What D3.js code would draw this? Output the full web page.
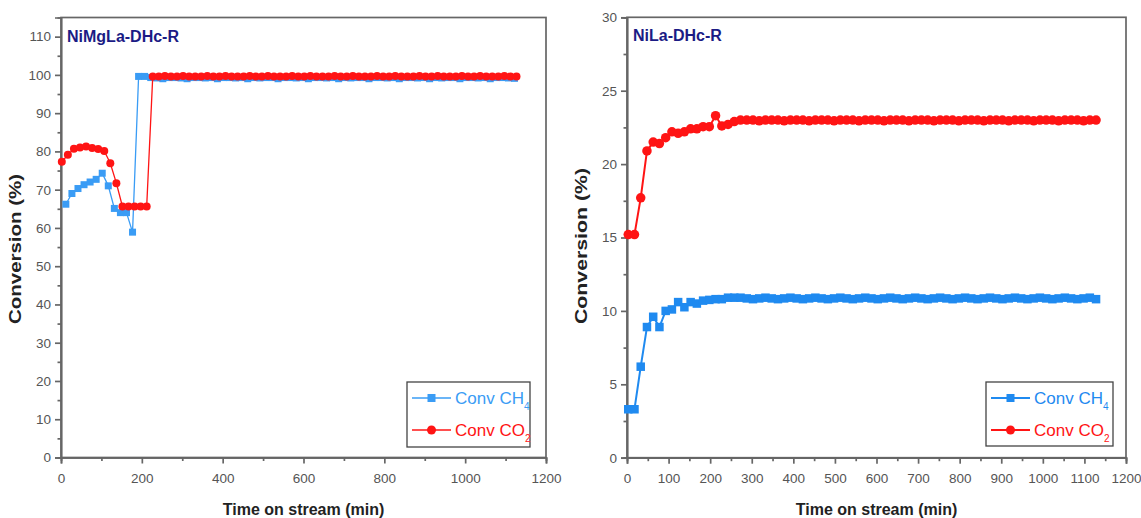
<!DOCTYPE html>
<html>
<head>
<meta charset="utf-8">
<script src="https://cdn.jsdelivr.net/npm/d3@7"></script>
<style>
  body { margin: 0; background: #fff; }
  text { font-family: "Liberation Sans", Arial, sans-serif; }
</style>
</head>
<body>
<script>
// ---- data: left panel (NiMgLa-DHc-R)
var leftTimeCH4 = [12, 27, 42, 57, 72, 87, 102, 117, 132, 147, 162, 177, 192, 207, 222, 237,
  252, 267, 282, 297, 312, 327, 342, 357, 372, 387, 402, 417, 432, 447, 462, 477, 492, 507,
  522, 537, 552, 567, 582, 597, 612, 627, 642, 657, 672, 687, 702, 717, 732, 747, 762, 777,
  792, 807, 822, 837, 852, 867, 882, 897, 912, 927, 942, 957, 972, 987, 1002, 1017, 1032,
  1047, 1062, 1077, 1092, 1107, 1122];
var leftCH4 = [66.2, 69.0, 70.3, 71.3, 72.0, 72.7, 74.3, 71.0, 65.1, 64.0, 64.0, 58.9, 99.6, 99.6,
  99.3, 99.2, 99.0, 99.3, 99.3, 99.2, 99.0, 99.3, 99.3, 99.2, 99.3, 99.0, 99.3, 99.3, 99.2,
  99.3, 99.0, 99.3, 99.2, 99.3, 99.3, 99.0, 99.3, 99.3, 99.2, 99.3, 99.0, 99.3, 99.3, 99.2,
  99.3, 99.0, 99.3, 99.2, 99.3, 99.3, 99.0, 99.3, 99.3, 99.2, 99.3, 99.0, 99.3, 99.3, 99.2,
  99.3, 99.0, 99.3, 99.2, 99.3, 99.3, 99.0, 99.3, 99.3, 99.2, 99.3, 99.0, 99.3, 99.3, 99.2, 99.1];
var leftTimeCO2 = [2, 17, 32, 47, 62, 77, 92, 107, 122, 137, 152, 167, 182, 197, 212, 227, 242,
  257, 272, 287, 302, 317, 332, 347, 362, 377, 392, 407, 422, 437, 452, 467, 482, 497, 512,
  527, 542, 557, 572, 587, 602, 617, 632, 647, 662, 677, 692, 707, 722, 737, 752, 767, 782,
  797, 812, 827, 842, 857, 872, 887, 902, 917, 932, 947, 962, 977, 992, 1007, 1022, 1037,
  1052, 1067, 1082, 1097, 1112, 1127];
var leftCO2 = [77.3, 79.1, 80.7, 81.0, 81.3, 80.9, 80.6, 80.1, 76.9, 71.7, 65.6, 65.6, 65.6, 65.6,
  65.6, 99.6, 99.6, 99.7, 99.6, 99.6, 99.7, 99.6, 99.6, 99.6, 99.7, 99.6, 99.6, 99.7, 99.6,
  99.6, 99.6, 99.7, 99.6, 99.6, 99.7, 99.6, 99.6, 99.6, 99.7, 99.6, 99.6, 99.7, 99.6, 99.6,
  99.6, 99.7, 99.6, 99.6, 99.7, 99.6, 99.6, 99.6, 99.7, 99.6, 99.6, 99.7, 99.6, 99.6, 99.6,
  99.7, 99.6, 99.6, 99.7, 99.6, 99.6, 99.6, 99.7, 99.6, 99.6, 99.7, 99.6, 99.6, 99.6, 99.7,
  99.6, 99.6];

// ---- data: right panel (NiLa-DHc-R)
var rightTime = [3, 18, 33, 48, 63, 78, 93, 108, 123, 138, 153, 168, 183, 198, 213, 228, 243,
  258, 273, 288, 303, 318, 333, 348, 363, 378, 393, 408, 423, 438, 453, 468, 483, 498, 513,
  528, 543, 558, 573, 588, 603, 618, 633, 648, 663, 678, 693, 708, 723, 738, 753, 768, 783,
  798, 813, 828, 843, 858, 873, 888, 903, 918, 933, 948, 963, 978, 993, 1008, 1023, 1038,
  1053, 1068, 1083, 1098, 1113, 1128];
var rightCH4 = [3.3, 3.3, 6.2, 8.9, 9.6, 8.9, 10.0, 10.1, 10.6, 10.25, 10.6, 10.5, 10.7, 10.75,
  10.8, 10.8, 10.9, 10.9, 10.9, 10.85, 10.8, 10.85, 10.9, 10.85, 10.8, 10.85, 10.9, 10.85,
  10.8, 10.85, 10.9, 10.85, 10.8, 10.85, 10.9, 10.85, 10.8, 10.85, 10.9, 10.85, 10.8, 10.85,
  10.9, 10.85, 10.8, 10.85, 10.9, 10.85, 10.8, 10.85, 10.9, 10.85, 10.8, 10.85, 10.9, 10.85,
  10.8, 10.85, 10.9, 10.85, 10.8, 10.85, 10.9, 10.85, 10.8, 10.85, 10.9, 10.85, 10.8, 10.85,
  10.9, 10.85, 10.8, 10.85, 10.9, 10.8];
var rightCO2 = [15.2, 15.2, 17.7, 20.9, 21.5, 21.4, 21.8, 22.2, 22.1, 22.2, 22.4, 22.4, 22.55,
  22.55, 23.3, 22.6, 22.7, 22.9, 23.0, 23.0, 23.0, 22.95, 23.0, 23.0, 23.0, 22.95, 23.0,
  23.0, 23.0, 22.95, 23.0, 23.0, 23.0, 22.95, 23.0, 23.0, 23.0, 22.95, 23.0, 23.0, 23.0,
  22.95, 23.0, 23.0, 23.0, 22.95, 23.0, 23.0, 23.0, 22.95, 23.0, 23.0, 23.0, 22.95, 23.0,
  23.0, 23.0, 22.95, 23.0, 23.0, 23.0, 22.95, 23.0, 23.0, 23.0, 22.95, 23.0, 23.0, 23.0,
  22.95, 23.0, 23.0, 23.0, 22.95, 23.0, 23.0];

// tick values
var leftXTicks = [0, 200, 400, 600, 800, 1000, 1200];
var leftXMinor = [100, 300, 500, 700, 900, 1100];
var leftYTicks = [0, 10, 20, 30, 40, 50, 60, 70, 80, 90, 100, 110];
var leftYMinor = [5, 15, 25, 35, 45, 55, 65, 75, 85, 95, 105];
var rightXTicks = [0, 100, 200, 300, 400, 500, 600, 700, 800, 900, 1000, 1100, 1200];
var rightXMinor = [50, 150, 250, 350, 450, 550, 650, 750, 850, 950, 1050, 1150];
var rightYTicks = [0, 5, 10, 15, 20, 25, 30];
var rightYMinor = [2.5, 7.5, 12.5, 17.5, 22.5, 27.5];

var W = 1141, H = 518;
var svg = d3.select('body').append('svg')
            .attr('width', W)
            .attr('height', H);

var blueL = '#3a9cf5', blueR = '#1f8af0', red = '#ff1414';

function drawPanel(p) {
  var x = d3.scaleLinear().domain([0, 1200]).range([p.x0, p.x1]);
  var y = d3.scaleLinear().domain(p.yDomain).range([p.y0, p.y1]);
  var g = svg.append('g');

  // frame
  g.append('rect')
   .attr('x', p.x0).attr('y', p.y1)
   .attr('width', p.x1 - p.x0).attr('height', p.y0 - p.y1)
   .attr('fill', 'none').attr('stroke', '#666').attr('stroke-width', 1.7);

  // axes (major + minor)
  var xa = g.append('g').attr('transform', 'translate(0,' + p.y0 + ')')
            .call(d3.axisBottom(x).tickValues(p.xTicks).tickSize(6).tickPadding(10).tickFormat(d3.format('d')));
  var xm = g.append('g').attr('transform', 'translate(0,' + p.y0 + ')')
            .call(d3.axisBottom(x).tickValues(p.xMinor).tickSize(3.5).tickFormat(''));
  var ya = g.append('g').attr('transform', 'translate(' + p.x0 + ',0)')
            .call(d3.axisLeft(y).tickValues(p.yTicks).tickSize(6).tickPadding(4).tickFormat(d3.format('d')));
  var ym = g.append('g').attr('transform', 'translate(' + p.x0 + ',0)')
            .call(d3.axisLeft(y).tickValues(p.yMinor).tickSize(3.5).tickFormat(''));
  [xa, xm, ya, ym].forEach(function(a) {
    a.select('.domain').attr('stroke', '#666').attr('stroke-width', 1.7);
    a.selectAll('line').attr('stroke', '#666').attr('stroke-width', 1.7);
    a.selectAll('text').attr('fill', '#555').attr('font-size', '13.5px')
     .attr('font-family', '"Liberation Sans", Arial, sans-serif');
  });

  // series
  p.series.forEach(function(s) {
    var pts = s.t.map(function(t, i) { return [t, s.v[i]]; });
    var line = d3.line().x(function(d) { return x(d[0]); }).y(function(d) { return y(d[1]); });
    g.append('path').datum(pts)
     .attr('d', line).attr('fill', 'none')
     .attr('stroke', s.color).attr('stroke-width', p.lw);
    if (s.shape === 'square') {
      g.selectAll(null).data(pts).enter().append('rect')
       .attr('x', function(d) { return x(d[0]) - p.ms / 2; })
       .attr('y', function(d) { return y(d[1]) - p.ms / 2; })
       .attr('width', p.ms).attr('height', p.ms)
       .attr('fill', s.color);
    } else {
      g.selectAll(null).data(pts).enter().append('circle')
       .attr('cx', function(d) { return x(d[0]); })
       .attr('cy', function(d) { return y(d[1]); })
       .attr('r', p.ms / 2 + 0.5)
       .attr('fill', s.color);
    }
  });

  // panel title
  g.append('text').attr('x', p.x0 + 6).attr('y', p.y1 + 24)
   .attr('fill', '#1b1b85').attr('font-size', '16px').attr('font-weight', 'bold')
   .text(p.title);

  // axis titles (reference is stretched vertically, so the rotated one is longer)
  g.append('text')
   .attr('transform', 'translate(' + (p.x0 - 40) + ',' + p.yLabelY + ') rotate(-90)')
   .attr('text-anchor', 'middle').attr('font-size', '17px').attr('font-weight', 'bold')
   .attr('textLength', p.yLabelLen).attr('lengthAdjust', 'spacingAndGlyphs')
   .attr('fill', '#222').text('Conversion (%)');
  g.append('text')
   .attr('x', (p.x0 + p.x1) / 2).attr('y', 515)
   .attr('text-anchor', 'middle').attr('font-size', '16px').attr('font-weight', 'bold')
   .attr('fill', '#222').text('Time on stream (min)');

  // legend
  var L = p.legend;
  g.append('rect').attr('x', L.x).attr('y', L.y).attr('width', L.w).attr('height', L.h)
   .attr('fill', '#fff').attr('stroke', '#444').attr('stroke-width', 1.3);
  p.series.forEach(function(s, i) {
    var cy = L.y + 16 + i * 32;
    g.append('line').attr('x1', L.x + 5).attr('x2', L.x + 44).attr('y1', cy).attr('y2', cy)
     .attr('stroke', s.color).attr('stroke-width', p.lw);
    if (s.shape === 'square') {
      g.append('rect').attr('x', L.x + 24.5 - 4).attr('y', cy - 4).attr('width', 8).attr('height', 8)
       .attr('fill', s.color);
    } else {
      g.append('circle').attr('cx', L.x + 24.5).attr('cy', cy).attr('r', 4.5).attr('fill', s.color);
    }
    var t = g.append('text').attr('x', L.x + 48).attr('y', cy + 6)
             .attr('fill', s.color).attr('font-size', '17px');
    t.append('tspan').text(s.label);
    t.append('tspan').attr('font-size', '10px').attr('dy', 6).text(s.sub);
  });
}

drawPanel({
  x0: 61, x1: 546, y0: 457.5, y1: 17.5, yDomain: [0, 115],
  xTicks: leftXTicks, xMinor: leftXMinor, yTicks: leftYTicks, yMinor: leftYMinor,
  title: 'NiMgLa-DHc-R', lw: 1.3, ms: 7,
  yLabelY: 249, yLabelLen: 150,
  legend: { x: 407, y: 382, w: 123, h: 65 },
  series: [
    { t: leftTimeCH4, v: leftCH4, color: blueL, shape: 'square', label: 'Conv CH', sub: '4' },
    { t: leftTimeCO2, v: leftCO2, color: red, shape: 'circle', label: 'Conv CO', sub: '2' }
  ]
});

drawPanel({
  x0: 627, x1: 1126, y0: 457.7, y1: 17.3, yDomain: [0, 30],
  xTicks: rightXTicks, xMinor: rightXMinor, yTicks: rightYTicks, yMinor: rightYMinor,
  title: 'NiLa-DHc-R', lw: 2, ms: 8.5,
  yLabelY: 246, yLabelLen: 156,
  legend: { x: 986, y: 382, w: 127, h: 64 },
  series: [
    { t: rightTime, v: rightCH4, color: blueR, shape: 'square', label: 'Conv CH', sub: '4' },
    { t: rightTime, v: rightCO2, color: red, shape: 'circle', label: 'Conv CO', sub: '2' }
  ]
});
</script>
</body>
</html>
